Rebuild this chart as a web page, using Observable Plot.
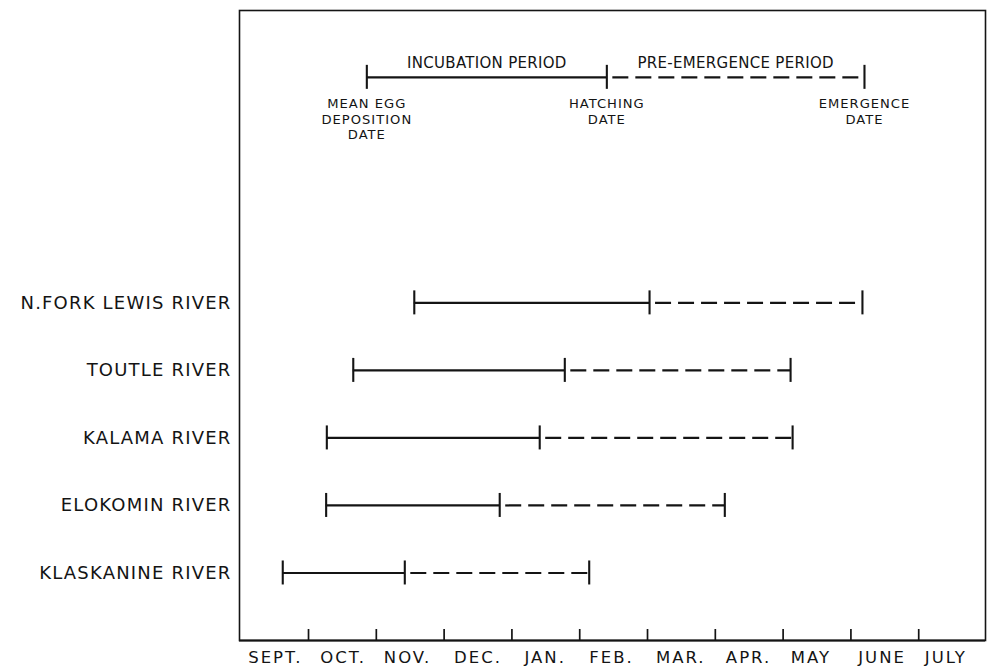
<!DOCTYPE html>
<html>
<head>
<meta charset="utf-8">
<script src="https://cdn.jsdelivr.net/npm/d3@7"></script>
<script src="https://cdn.jsdelivr.net/npm/@observablehq/plot@0.6"></script>
<style>
  html, body { margin: 0; padding: 0; background: #fff; }
  #chart svg { display: block; }
  #chart g[aria-label="y-axis tick label"] { letter-spacing: 1.2px; }
  #chart g[aria-label="x-axis tick label"] { letter-spacing: 2px; }
</style>
</head>
<body>
<div id="chart"></div>
<script>
// ---- Data (months since September 1) ----
const rivers = ["N.FORK LEWIS RIVER", "TOUTLE RIVER", "KALAMA RIVER", "ELOKOMIN RIVER", "KLASKANINE RIVER"];
const rowIndex = [4, 3, 2, 1, 0];
const deposition = [2.56, 1.66, 1.27, 1.26, 0.62];
const hatching = [6.03, 4.78, 4.41, 3.82, 2.42];
const emergence = [9.17, 8.11, 8.14, 7.14, 5.14];

// Legend (explanatory) bar
const legendRow = 7.34;
const legendDates = [1.86, 5.40, 9.20];
const legendDateLabels = ["MEAN EGG\nDEPOSITION\nDATE", "HATCHING\nDATE", "EMERGENCE\nDATE"];
const legendPeriodLabels = ["INCUBATION PERIOD", "PRE-EMERGENCE PERIOD"];

const monthLabels = ["SEPT.", "OCT.", "NOV.", "DEC.", "JAN.", "FEB.", "MAR.", "APR.", "MAY", "JUNE", "JULY"];
const monthLabelPos = [0.51, 1.51, 2.46, 3.50, 4.49, 5.47, 6.49, 7.49, 8.41, 9.46, 10.40];
const monthTicks = [1, 2, 3, 4, 5, 6, 7, 8, 9, 10];

const xDomain = [-0.018, 10.985];
const yDomain = [-1.0, 8.33];

const rows = rivers.map((r, i) => ({river: r, y: rowIndex[i], dep: deposition[i], hat: hatching[i], emg: emergence[i]}));
const legend = [{y: legendRow, dep: legendDates[0], hat: legendDates[1], emg: legendDates[2]}];
const allRows = rows.concat(legend);
const caps = allRows.flatMap(d => [d.dep, d.hat, d.emg].map(x => ({x, y: d.y})));
const legendDateText = legendDates.map((x, i) => ({x, y: legendRow, text: legendDateLabels[i]}));
const legendPeriodText = [
  {x: (legendDates[0] + legendDates[1]) / 2, y: legendRow, text: legendPeriodLabels[0]},
  {x: (legendDates[1] + legendDates[2]) / 2, y: legendRow, text: legendPeriodLabels[1]}
];

const ink = "#141414";
const font = "DejaVu Sans";

const chart = Plot.plot({
  width: 997,
  height: 666,
  marginTop: 10,
  marginBottom: 26,
  marginLeft: 239,
  marginRight: 12,
  style: {fontFamily: font, color: ink, background: "#fff"},
  x: {domain: xDomain, axis: null},
  y: {domain: yDomain, axis: null},
  marks: [
    Plot.frame({stroke: ink, strokeWidth: 1.6}),
    Plot.ruleY([yDomain[0]], {stroke: ink, strokeWidth: 2.2}),
    // month tick marks (pointing inward)
    Plot.ruleX(monthTicks, {x: d => d, y1: () => yDomain[0], y2: () => yDomain[0], insetTop: -11, insetBottom: 0, stroke: ink, strokeWidth: 1.7}),
    // month labels
    Plot.axisX(monthLabelPos, {anchor: "bottom", tickSize: 0, tickPadding: 11, tickFormat: (d) => monthLabels[monthLabelPos.indexOf(d)], fontSize: 16.5, label: null, fill: ink}),
    // river labels
    Plot.axisY(rowIndex, {anchor: "left", tickSize: 0, tickPadding: 8, tickFormat: d => rivers[rowIndex.indexOf(d)], fontSize: 18, label: null, fill: ink}),
    // incubation (solid)
    Plot.ruleY(allRows, {y: "y", x1: "dep", x2: "hat", stroke: ink, strokeWidth: 2.2}),
    // pre-emergence (dashed)
    Plot.ruleY(allRows, {y: "y", x1: "hat", x2: "emg", stroke: ink, strokeWidth: 2.2, strokeDasharray: "16,7", strokeDashoffset: -6}),
    // end caps
    Plot.ruleX(caps, {x: "x", y1: "y", y2: "y", insetTop: -12, insetBottom: -12, stroke: ink, strokeWidth: 2.1}),
    // legend texts
    Plot.text(legendPeriodText, {x: "x", y: "y", text: "text", dy: -9, lineAnchor: "bottom", fontSize: 15, fill: ink}),
    Plot.text(legendDateText, {x: "x", y: "y", text: "text", dy: 20, lineAnchor: "top", lineHeight: 1.17, fontSize: 13.1, fill: ink})
  ]
});

const textGroups = chart.querySelectorAll('g[aria-label="text"]');
if (textGroups[0]) textGroups[0].style.letterSpacing = "0.3px";
if (textGroups[1]) textGroups[1].style.letterSpacing = "1px";

document.getElementById("chart").appendChild(chart);
</script>
</body>
</html>
